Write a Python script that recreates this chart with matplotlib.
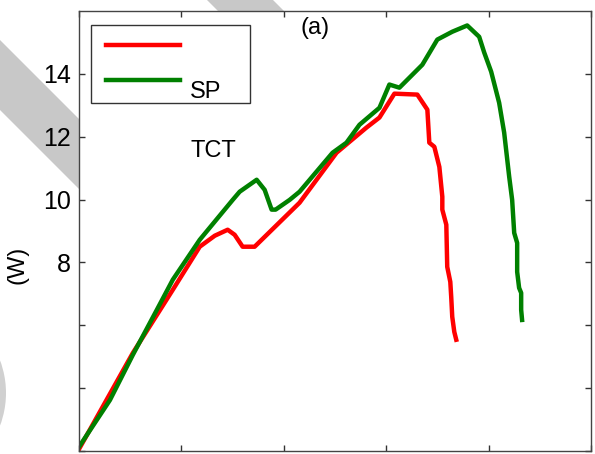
import matplotlib
matplotlib.use("Agg")
import matplotlib.pyplot as plt
from matplotlib.patches import Polygon, Rectangle, Circle
from matplotlib.lines import Line2D

# voltage (arbitrary units, ticks unlabeled) and power (W)
tct_v = [0.0, 5.26, 9.16, 11.79, 13.26, 14.52, 15.20, 15.98, 17.15, 21.54, 25.15,
         28.07, 29.34, 30.80, 33.04, 34.02, 34.21, 34.70, 35.19, 35.48, 35.48,
         35.87, 35.96, 36.26, 36.35, 36.45, 36.65, 36.84]
tct_p = [2.06, 5.12, 7.13, 8.50, 8.85, 9.04, 8.88, 8.50, 8.50, 9.90, 11.49,
         12.29, 12.61, 13.37, 13.34, 12.86, 11.81, 11.68, 11.04, 10.09, 9.68,
         9.20, 7.86, 7.38, 6.90, 6.27, 5.79, 5.54]

sp_v = [0.0, 3.02, 5.26, 7.60, 9.16, 11.79, 15.01, 15.69, 17.35, 18.13, 18.81,
        19.20, 20.57, 21.54, 24.76, 26.12, 27.39, 29.34, 30.31, 31.29, 33.53,
        34.99, 36.45, 37.91, 39.08, 39.57, 40.25, 41.03, 41.52, 42.01, 42.30,
        42.50, 42.79, 42.79, 42.98, 43.18, 43.18, 43.27]
sp_p = [2.13, 3.62, 5.06, 6.49, 7.45, 8.72, 9.99, 10.25, 10.63, 10.31, 9.68,
        9.68, 9.99, 10.25, 11.49, 11.81, 12.38, 12.92, 13.66, 13.56, 14.29,
        15.09, 15.34, 15.54, 15.18, 14.68, 14.07, 13.08, 12.13, 10.73, 9.99,
        8.94, 8.62, 7.70, 7.19, 7.03, 6.49, 6.17]

y_ticks = [2, 4, 6, 8, 10, 12, 14]
y_labels = ["", "", "", "8", "10", "12", "14"]
x_ticks = [0, 10, 20, 30, 40, 50]

W, H = 595, 454
fig = plt.figure(figsize=(W / 100, H / 100), dpi=100)
plt.rcParams["font.family"] = ["Liberation Sans", "DejaVu Sans"]

# grey watermark pieces, only visible outside the plot box
def px(pts):
    return [(x / W, 1 - y / H) for x, y in pts]

wm = "#c8c8c8"
fig.patches.append(Polygon(px([(0, 40), (0, 110), (79, 189), (79, 119)]),
                           closed=True, transform=fig.transFigure,
                           facecolor=wm, edgecolor="none", zorder=-5))
fig.patches.append(Polygon(px([(207, 0), (273, 0), (284, 11), (218, 11)]),
                           closed=True, transform=fig.transFigure,
                           facecolor=wm, edgecolor="none", zorder=-5))
fig.patches.append(Circle((-151 / W, 1 - 393 / H), 157 / W,
                          transform=fig.transFigure, facecolor="#d0d0d0",
                          edgecolor="none", zorder=-5))

ax = fig.add_axes([79 / W, 3 / H, 512 / W, 440 / H])
ax.plot(tct_v, tct_p, color="#ff0000", lw=3.2, solid_joinstyle="round")
ax.plot(sp_v, sp_p, color="#008000", lw=3.2, solid_joinstyle="round")

ax.set_xlim(0, 50)
ax.set_ylim(2, 16)
ax.set_xticks(x_ticks)
ax.set_xticklabels([])
ax.set_yticks(y_ticks)
ax.set_yticklabels(y_labels, fontsize=18)
ax.tick_params(direction="in", top=True, right=True, length=4, width=1,
               color="#333333", pad=6)
for s in ax.spines.values():
    s.set_color("#444444")
    s.set_linewidth(1.0)

# hand drawn legend box like the original
ax.add_patch(Rectangle((0.0234, 0.791), 0.31, 0.177, transform=ax.transAxes,
                       fill=False, edgecolor="#333333", lw=1.0))
ax.add_line(Line2D([0.0527, 0.197], [0.923, 0.923], transform=ax.transAxes,
                   color="#ff0000", lw=3.2))
ax.add_line(Line2D([0.0527, 0.197], [0.843, 0.843], transform=ax.transAxes,
                   color="#008000", lw=3.2))
ax.text(0.217, 0.816, "SP", transform=ax.transAxes, fontsize=17, va="center")
ax.text(0.217, 0.682, "TCT", transform=ax.transAxes, fontsize=17, va="center")
ax.text(0.432, 0.961, "(a)", transform=ax.transAxes, fontsize=17, va="center")

fig.text(18 / W, 1 - 265 / H, "(W)", rotation=90, fontsize=17,
         ha="center", va="center")

fig.savefig("out.png", dpi=100)
